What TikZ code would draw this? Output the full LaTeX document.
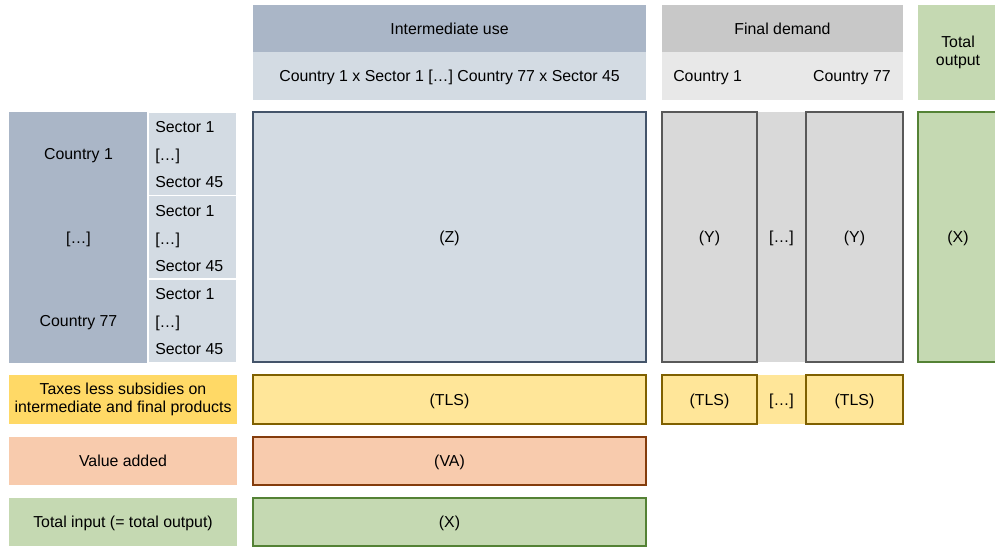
\documentclass[tikz,border=0pt]{standalone}
\usepackage{fontspec}
\setmainfont{Liberation Sans}
\usepackage{xcolor}
\usepackage{tikz}
\usetikzlibrary{positioning,calc}
\definecolor{headblue}{RGB}{170,182,199}
\definecolor{paleblue}{RGB}{211,219,227}
\definecolor{zedge}{RGB}{68,84,106}
\definecolor{headgray}{RGB}{200,200,200}
\definecolor{palegray}{RGB}{232,232,232}
\definecolor{ygray}{RGB}{217,217,217}
\definecolor{yedge}{RGB}{89,89,89}
\definecolor{sage}{RGB}{197,217,178}
\definecolor{sageedge}{RGB}{84,130,53}
\definecolor{taxlabel}{RGB}{255,217,102}
\definecolor{taxfill}{RGB}{255,230,153}
\definecolor{taxedge}{RGB}{127,96,0}
\definecolor{peach}{RGB}{248,203,173}
\definecolor{peachedge}{RGB}{132,60,12}

\begin{document}
\begin{tikzpicture}[
    x=0.75pt,y=-0.75pt,
    font=\fontsize{11.9}{14.5}\selectfont,
    box/.style 2 args={minimum width=#1*0.75pt,minimum height=#2*0.75pt,
      inner sep=0pt,outer sep=0pt,align=center},
    wh/.style 2 args={box={#1}{#2},text height=8.6pt,text depth=0pt},
    header/.style={fill=headblue},
    subheader/.style={fill=paleblue},
    fdheader/.style={fill=headgray},
    fdsub/.style={fill=palegray},
    country/.style={fill=headblue},
    sectorblock/.style={fill=paleblue,draw=white,line width=1.2pt},
    sectortext/.style={anchor=west,inner sep=0pt,text height=8.6pt,text depth=0pt},
    zblock/.style={fill=paleblue,draw=zedge,line width=1.5pt},
    yblock/.style={fill=ygray,draw=yedge,line width=1.5pt},
    ygap/.style={fill=ygray},
    xblock/.style={fill=sage,draw=sageedge,line width=1.5pt},
    taxrow/.style={fill=taxfill,draw=taxedge,line width=1.5pt},
    taxgap/.style={fill=taxfill},
    varow/.style={fill=peach,draw=peachedge,line width=1.5pt}
  ]
    \useasboundingbox (0,0) rectangle (995,553);

    % Column headers.
    \node[header,wh={393}{47}] (iuhead) at (449.5,28.5) {Intermediate use};
    \node[subheader,wh={393}{48}] (iusub) at (449.5,76)
      {Country 1 x Sector 1 […] Country 77 x Sector 45};
    \node[fdheader,wh={241}{47}] (fdhead) at (782.5,28.5) {Final demand};
    \node[fdsub,wh={241}{48}] (fdsub) at (782.5,76) {};
    \node[sectortext] (fdfirst) at (673,76) {Country 1};
    \node[sectortext,anchor=east] (fdlast) at (891,76) {Country 77};
    \node[fill=sage,box={80}{95}] (tothead) at (958,52.5)
      {Total\\[-1pt]output};

    % Row headers: countries and sectors.
    \foreach \i/\lab in {0/Country 1,1/{[…]},2/Country 77}{
      \node[country,wh={139}{83.7}] (c\i) at (78.5,154+83.5*\i) {\lab};
      \node[sectorblock,wh={89}{83.7}] (s\i) at (192.5,154+83.5*\i) {};
      \node[sectortext] (s\i a) at (155,127+83.5*\i) {Sector 1};
      \node[sectortext] (s\i b) at (155,155+83.5*\i) {[…]};
      \node[sectortext] (s\i c) at (155,182+83.5*\i) {Sector 45};
    }

    % Core blocks.
    \node[zblock,wh={393}{250}] (z) at (449.5,237) {(Z)};
    \node[ygap,wh={50}{250}] (ydots) at (781.5,237) {[…]};
    \node[yblock,wh={95}{250}] (y1) at (709.5,237) {(Y)};
    \node[yblock,wh={97}{250}] (y77) at (854.5,237) {(Y)};
    \node[xblock,wh={80}{250}] (xcol) at (958,237) {(X)};

    % Taxes less subsidies.
    \node[fill=taxlabel,box={228}{49}] (tlslab) at (123,399.5)
      {\raisebox{-2pt}{}Taxes less subsidies on\\[-1pt]intermediate and final products};
    \node[taxrow,wh={393}{49}] (tls) at (449.5,399.5) {(TLS)};
    \node[taxgap,wh={50}{49}] (tlsdots) at (781.5,399.5) {[…]};
    \node[taxrow,wh={95}{49}] (tls1) at (709.5,399.5) {(TLS)};
    \node[taxrow,wh={97}{49}] (tls77) at (854.5,399.5) {(TLS)};

    % Value added and total input.
    \node[fill=peach,wh={228}{48}] (valab) at (123,461) {Value added};
    \node[varow,wh={393}{48}] (va) at (449.5,461) {(VA)};
    \node[fill=sage,wh={228}{48}] (xlab) at (123,522)
      {Total input (= total output)};
    \node[xblock,wh={393}{48}] (xrow) at (449.5,522) {(X)};
  \end{tikzpicture}
\end{document}
